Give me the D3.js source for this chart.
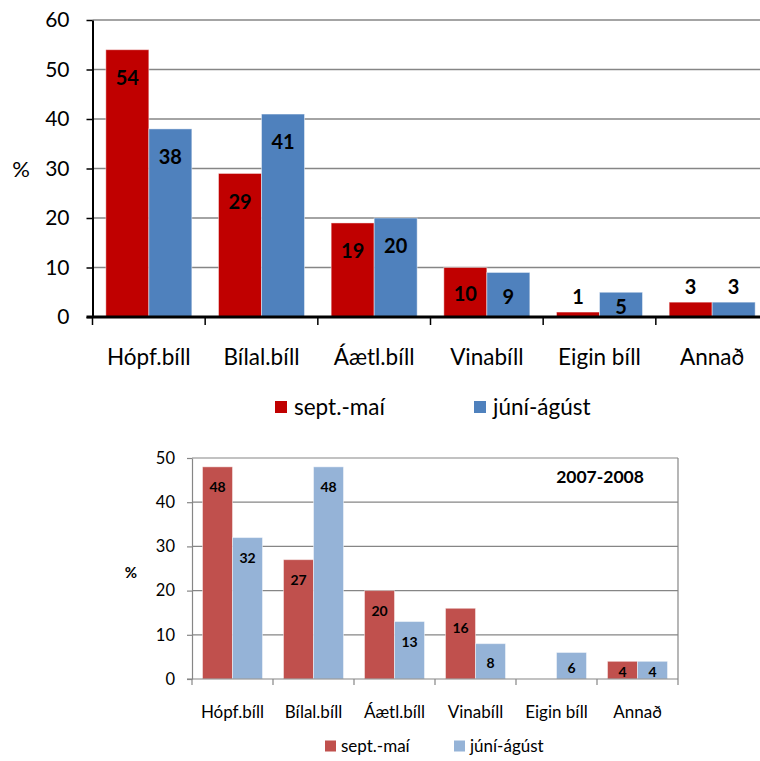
<!DOCTYPE html>
<html>
<head>
<meta charset="utf-8">
<script src="https://cdn.jsdelivr.net/npm/d3@7"></script>
<style>
  body { margin: 0; background: #fff; }
  svg { display: block; font-family: Lato, "Open Sans", sans-serif; }
</style>
</head>
<body>
<div id="chart"></div>
<script>
// categories and series
const categories = ["Hópf.bíll", "Bílal.bíll", "Áætl.bíll", "Vinabíll", "Eigin bíll", "Annað"];
const seriesNames = ["sept.-maí", "júní-ágúst"];

// upper chart
const topSeptMai = [54, 29, 19, 10, 1, 3];
const topJuniAgust = [38, 41, 20, 9, 5, 3];
const topTicks = [0, 10, 20, 30, 40, 50, 60];

// lower chart (2007-2008), no bar for Eigin bíll sept.-maí
const bottomSeptMai = [48, 27, 20, 16, null, 4];
const bottomJuniAgust = [32, 48, 13, 8, 6, 4];
const bottomTicks = [0, 10, 20, 30, 40, 50];
const bottomTitle = "2007-2008";

const svg = d3.select("#chart")
  .append("svg")
  .attr("width", 760)
  .attr("height", 761);

function drawChart(opt) {
  const g = svg.append("g");

  const x = d3.scaleBand()
    .domain(categories)
    .range([opt.left, opt.right]);
  const xs = d3.scaleBand()
    .domain(seriesNames)
    .range([0, x.bandwidth()])
    .paddingOuter(opt.outerPad);
  const y = d3.scaleLinear()
    .domain([0, d3.max(opt.ticks)])
    .range([opt.bottom, opt.top]);

  // gridlines
  g.selectAll(".grid")
    .data(opt.ticks.filter(d => d > 0))
    .enter()
    .append("line")
    .attr("x1", opt.left)
    .attr("x2", opt.right)
    .attr("y1", d => y(d))
    .attr("y2", d => y(d))
    .attr("stroke", "#868686")
    .attr("stroke-width", opt.gridWidth);

  if (opt.frame) {
    g.append("line")
      .attr("x1", opt.right).attr("x2", opt.right)
      .attr("y1", opt.top).attr("y2", opt.bottom)
      .attr("stroke", "#868686")
      .attr("stroke-width", 1.2);
  }

  // bars
  const rows = [];
  categories.forEach((c, i) => {
    opt.series.forEach((s, j) => {
      if (s[i] != null) rows.push({ cat: c, name: seriesNames[j], value: s[i], color: opt.colors[j] });
    });
  });

  g.selectAll(".bar")
    .data(rows)
    .enter()
    .append("rect")
    .attr("x", d => x(d.cat) + xs(d.name))
    .attr("width", xs.bandwidth())
    .attr("y", d => y(d.value))
    .attr("height", d => y(0) - y(d.value))
    .attr("fill", d => d.color)
    .attr("stroke", "#ffffff")
    .attr("stroke-opacity", 0.45)
    .attr("stroke-width", 1);

  // value labels
  g.selectAll(".val")
    .data(rows)
    .enter()
    .append("text")
    .attr("x", d => x(d.cat) + xs(d.name) + xs.bandwidth() / 2)
    .attr("y", d => {
      const top = y(d.value);
      const h = y(0) - top;
      if (h < opt.minInside) return top - opt.aboveGap;
      return Math.min(top + opt.insideOff, (top + y(0)) / 2 + 2);
    })
    .attr("dy", "0.36em")
    .attr("text-anchor", "middle")
    .attr("font-weight", "bold")
    .attr("font-size", opt.valueSize)
    .attr("fill", "#000")
    .text(d => d.value);

  // y axis
  const yAxis = g.append("g")
    .attr("transform", `translate(${opt.left},0)`)
    .call(d3.axisLeft(y).tickValues(opt.ticks).tickSize(opt.yTick).tickPadding(opt.yPad).tickSizeOuter(0));
  yAxis.select(".domain").attr("stroke", opt.axisColor).attr("stroke-width", opt.axisWidth);
  yAxis.selectAll(".tick line").attr("stroke", opt.axisColor).attr("stroke-width", opt.tickWidth);
  yAxis.selectAll(".tick text")
    .attr("font-size", opt.tickSize)
    .attr("font-family", "Lato, sans-serif")
    .attr("fill", "#000");

  // x axis line with boundary ticks
  g.append("line")
    .attr("x1", opt.left - opt.yTick)
    .attr("x2", opt.right)
    .attr("y1", y(0))
    .attr("y2", y(0))
    .attr("stroke", opt.axisColor)
    .attr("stroke-width", opt.xAxisWidth);

  const bounds = categories.map(c => x(c)).concat([x.range()[1]]);
  g.selectAll(".xtick")
    .data(bounds)
    .enter()
    .append("line")
    .attr("x1", d => d)
    .attr("x2", d => d)
    .attr("y1", y(0))
    .attr("y2", y(0) + opt.xTick)
    .attr("stroke", opt.axisColor)
    .attr("stroke-width", opt.tickWidth);

  // category labels
  g.selectAll(".cat")
    .data(categories)
    .enter()
    .append("text")
    .attr("x", d => x(d) + x.bandwidth() / 2)
    .attr("y", opt.catY)
    .attr("dy", "0.36em")
    .attr("text-anchor", "middle")
    .attr("font-size", opt.catSize)
    .attr("fill", "#000")
    .text(d => d);

  // % label
  g.append("text")
    .attr("x", opt.pctX)
    .attr("y", opt.pctY)
    .attr("dy", "0.36em")
    .attr("text-anchor", "middle")
    .attr("font-size", opt.pctSize)
    .attr("font-weight", opt.pctWeight)
    .attr("fill", "#000")
    .text("%");

  // legend
  const leg = g.selectAll(".leg")
    .data(seriesNames)
    .enter()
    .append("g")
    .attr("transform", (d, i) => `translate(${opt.legendX[i]},${opt.legendY})`);
  leg.append("rect")
    .attr("x", 0)
    .attr("y", -opt.legendBox / 2)
    .attr("width", opt.legendBox)
    .attr("height", opt.legendBox)
    .attr("fill", (d, i) => opt.colors[i]);
  leg.append("text")
    .attr("x", opt.legendBox + opt.legendGap)
    .attr("y", 0)
    .attr("dy", "0.36em")
    .attr("font-size", opt.legendSize)
    .attr("fill", "#000")
    .text(d => d);

  if (opt.title) {
    g.append("text")
      .attr("x", opt.titleX)
      .attr("y", opt.titleY)
      .attr("dy", "0.36em")
      .attr("text-anchor", "middle")
      .attr("font-size", 17.5)
      .attr("font-weight", "bold")
      .attr("fill", "#000")
      .text(opt.title);
  }
}

drawChart({
  series: [topSeptMai, topJuniAgust],
  colors: ["#C00000", "#4F81BD"],
  ticks: topTicks,
  left: 92.5, right: 768.5, top: 20, bottom: 317,
  outerPad: 0.31,
  gridWidth: 1.6,
  frame: false,
  axisColor: "#000", axisWidth: 2, xAxisWidth: 3, tickWidth: 1.5,
  yTick: 6, yPad: 17, xTick: 8,
  tickSize: 21, catSize: 22.5, catY: 357, valueSize: 20,
  minInside: 20, insideOff: 28, aboveGap: 15,
  pctX: 21, pctY: 169, pctSize: 22, pctWeight: "normal",
  legendX: [275, 474], legendY: 407, legendBox: 12, legendGap: 7, legendSize: 22.5
});

drawChart({
  series: [bottomSeptMai, bottomJuniAgust],
  colors: ["#C0504D", "#95B3D7"],
  ticks: bottomTicks,
  left: 192, right: 678, top: 458, bottom: 679,
  outerPad: 0.35,
  gridWidth: 1.2,
  frame: true,
  axisColor: "#868686", axisWidth: 1.2, xAxisWidth: 1.2, tickWidth: 1.2,
  yTick: 5, yPad: 12, xTick: 6,
  tickSize: 16.5, catSize: 17, catY: 712, valueSize: 14,
  minInside: 0, insideOff: 20, aboveGap: 12,
  pctX: 131, pctY: 573, pctSize: 15, pctWeight: "bold",
  legendX: [325, 454], legendY: 746, legendBox: 11, legendGap: 5, legendSize: 17,
  title: bottomTitle, titleX: 600, titleY: 477
});
</script>
</body>
</html>
